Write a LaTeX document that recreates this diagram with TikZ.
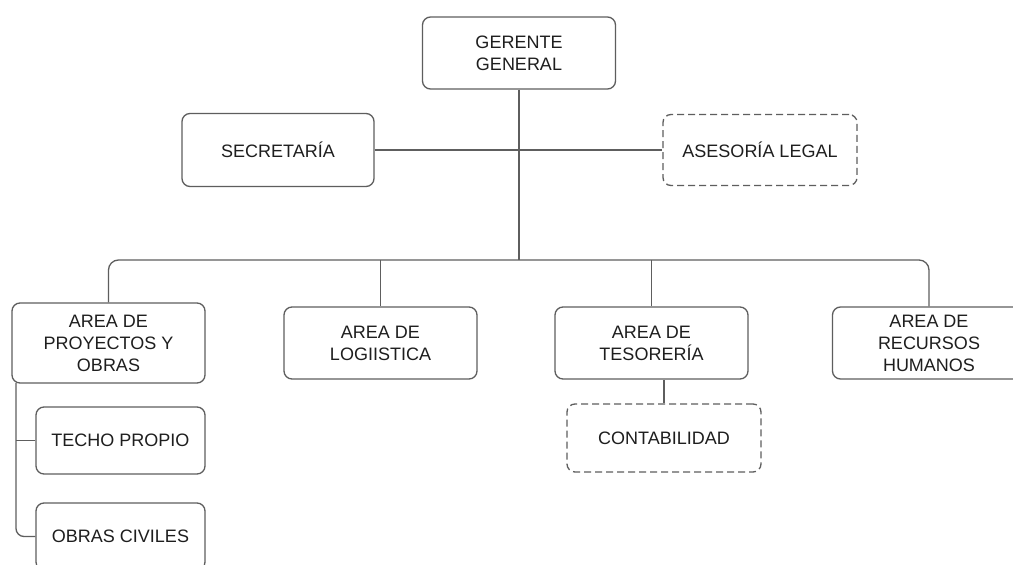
\documentclass[tikz,border=0pt]{standalone}
\usepackage{fontspec}
\setmainfont{Liberation Sans}
\definecolor{linecol}{HTML}{5E5E5E}
\definecolor{textcol}{HTML}{1E1E1E}
\tikzset{
  box/.style={draw=linecol, line width=1.3pt, rounded corners=8pt, align=center,
    minimum width=193pt, minimum height=72pt, inner sep=0pt, text=textcol,
    font=\fontsize{18}{22}\selectfont},
  dbox/.style={box, dashed, dash pattern=on 7pt off 4pt},
  conn/.style={draw=linecol, line width=1.3pt}
}
\begin{document}
\begin{tikzpicture}[x=1pt,y=-1pt]
\useasboundingbox (0,0) rectangle (1013,565);
\fill[white] (0,0) rectangle (1013,565);
\node[box] (ger) at (519,53) {GERENTE\\GENERAL};
\node[box, minimum width=192pt, minimum height=73pt] (sec) at (278,150) {SECRETARÍA};
\node[dbox, minimum width=194pt, minimum height=71pt] (ase) at (760,150) {ASESORÍA LEGAL};
\node[box, minimum height=80pt] (proy) at (108.5,343) {AREA DE\\PROYECTOS Y\\OBRAS};
\node[box] (log) at (380.5,343) {AREA DE\\LOGIISTICA};
\node[box] (tes) at (651.5,343) {AREA DE\\TESORERÍA};
\node[box] (rh) at (929,343) {AREA DE\\RECURSOS\\HUMANOS};
\node[dbox, minimum width=194pt, minimum height=68pt] (cont) at (664,438) {CONTABILIDAD};
\node[box, minimum width=169pt, minimum height=67pt] (techo) at (120.5,440.5) {TECHO PROPIO};
\node[box, minimum width=169pt, minimum height=67pt] (obras) at (120.5,536.5) {OBRAS CIVILES};
\coordinate (bus) at (519,260);
\coordinate (sp) at (16,383);
\draw[conn] (ger.south) -- (bus);
\draw[conn] (sec.east) -- (ase.west);
\draw[conn, rounded corners=10pt] (proy.north) |- (bus) -| (rh.north);
\draw[conn] (log.north) -- (log.north |- bus);
\draw[conn] (tes.north) -- (tes.north |- bus);
\draw[conn] (cont.north) -- (cont.north |- tes.south);
\draw[conn, rounded corners=8pt] (sp) |- (obras.west);
\draw[conn] (techo.west) -- (techo.west -| sp);
\end{tikzpicture}
\end{document}
